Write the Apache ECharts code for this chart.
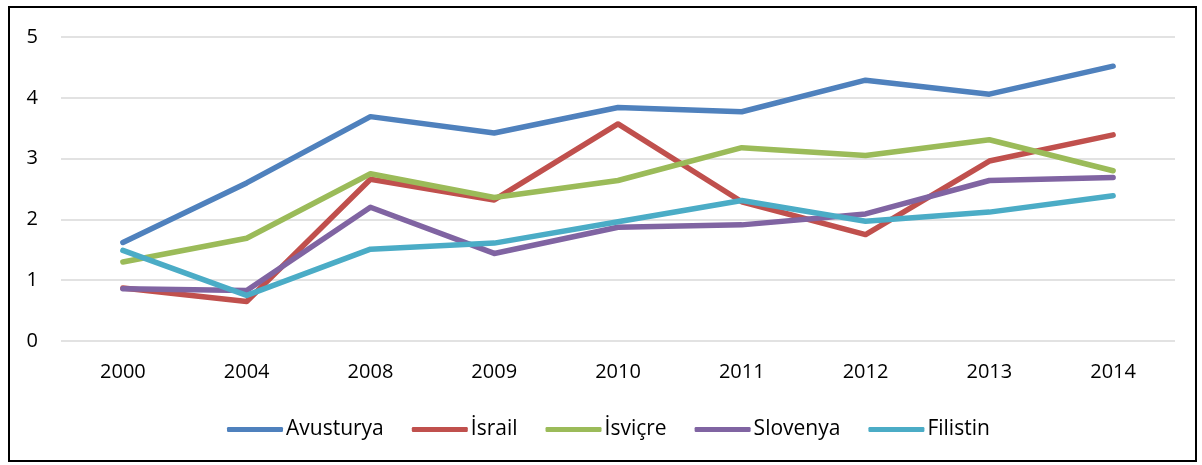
<!DOCTYPE html>
<html>
<head>
<meta charset="utf-8">
<script src="https://cdn.jsdelivr.net/npm/echarts@6/dist/echarts.min.js"></script>
<style>
  html, body { margin: 0; padding: 0; background: #fff; }
  #chart { width: 1202px; height: 465px; }
</style>
</head>
<body>
<div id="chart"></div>
<script>
const years = ['2000', '2004', '2008', '2009', '2010', '2011', '2012', '2013', '2014'];
const avusturya = [1.62, 2.60, 3.69, 3.42, 3.84, 3.77, 4.29, 4.06, 4.52];
const israil    = [0.87, 0.65, 2.66, 2.32, 3.57, 2.29, 1.75, 2.96, 3.39];
const isvicre   = [1.30, 1.69, 2.75, 2.36, 2.64, 3.18, 3.05, 3.31, 2.80];
const slovenya  = [0.86, 0.83, 2.20, 1.44, 1.87, 1.91, 2.09, 2.64, 2.69];
const filistin  = [1.49, 0.75, 1.51, 1.61, 1.96, 2.31, 1.97, 2.12, 2.39];

const seriesDefs = [
  { name: 'Avusturya', data: avusturya, color: '#4F81BD' },
  { name: 'İsrail', data: israil, color: '#C0504D' },
  { name: 'İsviçre', data: isvicre, color: '#9BBB59' },
  { name: 'Slovenya', data: slovenya, color: '#8064A2' },
  { name: 'Filistin', data: filistin, color: '#4BACC6' }
];

const font = '"Open Sans", "Liberation Sans", sans-serif';
const chart = echarts.init(document.getElementById('chart'));
chart.setOption({
  animation: false,
  backgroundColor: '#fff',
  textStyle: { fontFamily: font },
  graphic: [{
    type: 'rect',
    shape: { x: 9, y: 7, width: 1187, height: 454 },
    style: { fill: 'none', stroke: '#000', lineWidth: 2 },
    silent: true
  }],
  grid: { left: 61, right: 27, top: 37, bottom: 124 },
  legend: {
    top: 414,
    left: 222,
    icon: 'roundRect',
    itemWidth: 56,
    itemHeight: 5,
    itemGap: 28,
    textStyle: { fontFamily: font, fontSize: 21, color: '#000', padding: [0, 0, 0, -2] },
    data: seriesDefs.map(s => s.name)
  },
  xAxis: {
    type: 'category',
    data: years,
    boundaryGap: true,
    axisLine: { show: false },
    axisTick: { show: false },
    axisLabel: { color: '#000', fontSize: 20, margin: 21, fontFamily: font }
  },
  yAxis: {
    type: 'value',
    min: 0,
    max: 5,
    interval: 1,
    axisLine: { show: false },
    axisTick: { show: false },
    axisLabel: { color: '#000', fontSize: 20, margin: 23, fontFamily: font },
    splitLine: { lineStyle: { color: '#D9D9D9', width: 1.5 } }
  },
  series: seriesDefs.map(s => ({
    name: s.name,
    type: 'line',
    data: s.data,
    symbol: 'none',
    color: s.color,
    lineStyle: { width: 5.5, color: s.color, cap: 'round', join: 'round' }
  }))
});
</script>
</body>
</html>
